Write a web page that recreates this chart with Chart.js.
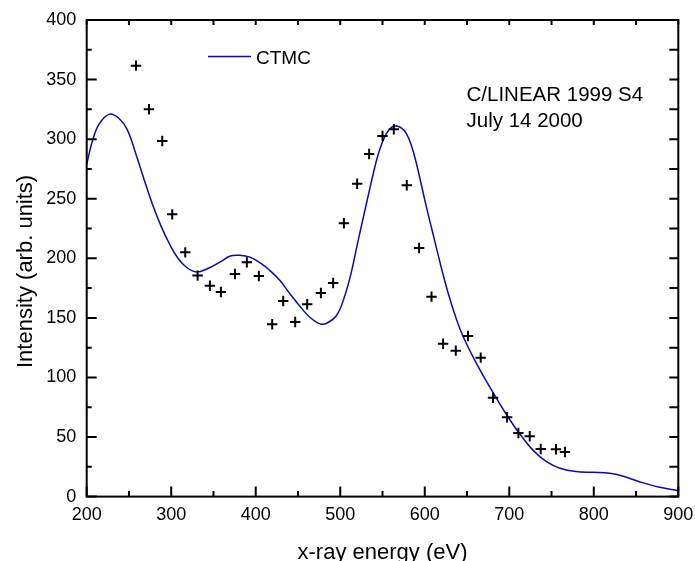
<!DOCTYPE html>
<html>
<head>
<meta charset="utf-8">
<script src="https://cdn.jsdelivr.net/npm/chart.js@4/dist/chart.umd.min.js"></script>
<style>
  html, body { margin: 0; padding: 0; background: #ffffff; }
  #wrap { width: 695px; height: 561px; position: relative; }
</style>
</head>
<body>
<div id="wrap"><canvas id="c" width="695" height="561"></canvas></div>
<script>
// Measured data (crosses)
const dataEnergy = [258.3, 273.7, 289.4, 301.2, 316.6, 331.2, 345.8, 358.8, 375.4, 389.5, 403.7, 419.5, 432.5, 446.7, 460.9, 477.1, 491.6, 504.3, 520.0, 534.2, 550.0, 563.4, 578.7, 593.3, 608.0, 621.7, 636.7, 651.2, 666.2, 680.8, 697.4, 710.8, 724.2, 737.2, 755.3, 765.9];
const dataIntensity = [361.7, 325.1, 298.5, 236.9, 205.0, 185.5, 177.0, 171.7, 186.8, 196.6, 185.2, 144.6, 164.2, 146.5, 161.4, 170.9, 179.3, 229.4, 262.6, 287.5, 302.7, 308.3, 261.3, 208.7, 167.8, 128.3, 122.5, 134.8, 116.6, 83.0, 66.6, 53.4, 50.6, 40.0, 39.7, 37.4];

// CTMC model curve
const ctmcEnergy = [200, 207, 215, 227, 238, 248, 258, 268, 278, 288, 298, 308, 318, 330, 342, 358, 370, 381, 393, 405, 417, 429, 440, 452, 464, 476, 484, 496, 505, 513, 520, 531, 543, 549, 555, 561, 567, 573, 578, 584, 590, 602, 612, 620, 628, 636, 645, 661, 681, 697, 712, 728, 744, 760, 779, 799, 819, 834, 854, 878, 900];
const ctmcIntensity = [279, 299, 313, 321, 317.5, 308, 288, 266, 245, 227, 212, 200, 192.5, 188.5, 191, 197, 202, 202.5, 201, 196.3, 189.6, 181.2, 170.6, 160, 150.5, 145, 145.5, 152.4, 167.8, 188, 211, 246, 282.5, 296, 305, 310, 311, 309, 305, 295, 280, 243, 214, 191, 170, 152, 135, 112, 87, 68.5, 53, 39, 29.3, 23.8, 21, 20.4, 19.6, 17.3, 12.5, 7.8, 5];

// Axis ticks
const xMajorTicks = [200, 300, 400, 500, 600, 700, 800, 900];
const xMinorTicks = [250, 350, 450, 550, 650, 750, 850];
const yMajorTicks = [0, 50, 100, 150, 200, 250, 300, 350, 400];
const yMinorTicks = [25, 75, 125, 175, 225, 275, 325, 375];

const xTitle = 'x-ray energy (eV)';
const yTitle = 'Intensity (arb. units)';
const legendLabel = 'CTMC';
const annotationLines = ['C/LINEAR 1999 S4', 'July 14 2000'];

const FONT = '"Liberation Sans", Arial, Helvetica, sans-serif';
const CURVE_COLOR = '#0b0ba8';

const ctmcPoints = ctmcEnergy.map((e, i) => ({ x: e, y: ctmcIntensity[i] }));
const measPoints = dataEnergy.map((e, i) => ({ x: e, y: dataIntensity[i] }));

const framePlugin = {
  id: 'frame',
  afterDraw(chart) {
    const ctx = chart.ctx;
    const a = chart.chartArea;
    const xs = chart.scales.x, ys = chart.scales.y;
    ctx.save();
    ctx.strokeStyle = '#000';
    ctx.lineWidth = 2;
    ctx.strokeRect(a.left, a.top, a.right - a.left, a.bottom - a.top);
    ctx.beginPath();
    xMajorTicks.forEach(v => {
      const p = xs.getPixelForValue(v);
      ctx.moveTo(p, a.bottom); ctx.lineTo(p, a.bottom - 10);
      ctx.moveTo(p, a.top); ctx.lineTo(p, a.top + 5);
    });
    xMinorTicks.forEach(v => {
      const p = xs.getPixelForValue(v);
      ctx.moveTo(p, a.bottom); ctx.lineTo(p, a.bottom - 5.5);
      ctx.moveTo(p, a.top); ctx.lineTo(p, a.top + 5);
    });
    yMajorTicks.forEach(v => {
      const p = ys.getPixelForValue(v);
      ctx.moveTo(a.left, p); ctx.lineTo(a.left + 10, p);
      ctx.moveTo(a.right, p); ctx.lineTo(a.right - 9, p);
    });
    yMinorTicks.forEach(v => {
      const p = ys.getPixelForValue(v);
      ctx.moveTo(a.left, p); ctx.lineTo(a.left + 5, p);
      ctx.moveTo(a.right, p); ctx.lineTo(a.right - 9, p);
    });
    ctx.stroke();

    ctx.fillStyle = '#000';
    ctx.font = '22px ' + FONT;
    ctx.textAlign = 'center';
    ctx.textBaseline = 'alphabetic';
    ctx.fillText(xTitle, (a.left + a.right) / 2, 559);
    ctx.save();
    ctx.translate(32, 271.4);
    ctx.rotate(-Math.PI / 2);
    ctx.fillText(yTitle, 0, 0);
    ctx.restore();

    ctx.strokeStyle = CURVE_COLOR;
    ctx.lineWidth = 1.5;
    ctx.beginPath();
    ctx.moveTo(208, 56.5); ctx.lineTo(251, 56.5);
    ctx.stroke();
    ctx.font = '19px ' + FONT;
    ctx.textAlign = 'left';
    ctx.fillText(legendLabel, 256, 64);

    ctx.font = '20.5px ' + FONT;
    ctx.fillText(annotationLines[0], 466.5, 101);
    ctx.fillText(annotationLines[1], 466.5, 126.7);
    ctx.restore();
  }
};

new Chart(document.getElementById('c'), {
  type: 'scatter',
  data: {
    datasets: [
      {
        label: legendLabel,
        data: ctmcPoints,
        showLine: true,
        borderColor: CURVE_COLOR,
        backgroundColor: CURVE_COLOR,
        borderWidth: 1.5,
        pointRadius: 0,
        pointHoverRadius: 0,
        tension: 0.4,
        order: 2
      },
      {
        label: 'data',
        data: measPoints,
        showLine: false,
        pointStyle: 'cross',
        pointRadius: 5.2,
        pointBorderWidth: 2,
        borderColor: '#000',
        backgroundColor: '#000',
        order: 1
      }
    ]
  },
  options: {
    responsive: false,
    animation: false,
    devicePixelRatio: 1,
    layout: { padding: { top: 20, right: 16.7, left: 0, bottom: 0 } },
    plugins: { legend: { display: false }, tooltip: { enabled: false }, title: { display: false } },
    scales: {
      x: {
        type: 'linear',
        min: 200, max: 900,
        afterFit(s) { s.height = 64.4; s.paddingLeft = 0; s.paddingRight = 0; },
        grid: { display: false, drawTicks: false },
        border: { display: false },
        ticks: {
          stepSize: 100, autoSkip: false, maxRotation: 0, padding: 8,
          color: '#000', font: { family: FONT, size: 18 }
        }
      },
      y: {
        type: 'linear',
        min: 0, max: 400,
        afterFit(s) { s.width = 86.7; s.paddingTop = 0; s.paddingBottom = 0; },
        grid: { display: false, drawTicks: false },
        border: { display: false },
        ticks: {
          stepSize: 50, autoSkip: false, padding: 10.5,
          color: '#000', font: { family: FONT, size: 18 }
        }
      }
    }
  },
  plugins: [framePlugin]
});
</script>
</body>
</html>
